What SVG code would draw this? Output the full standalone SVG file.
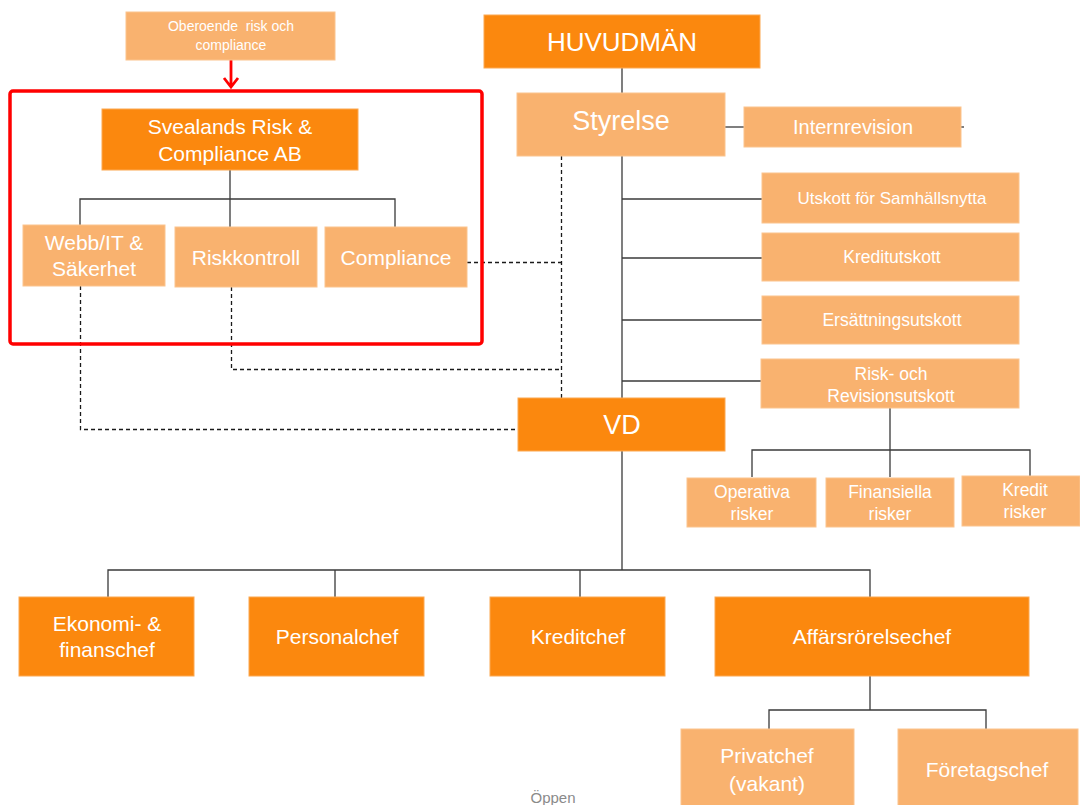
<svg xmlns="http://www.w3.org/2000/svg" width="1080" height="805" viewBox="0 0 1080 805">
<style>
.dk{fill:#FB880E;stroke:#FCA850;stroke-width:1}
.lt{fill:#F9B26F;stroke:#FBC48E;stroke-width:1}
text{font-family:"Liberation Sans",Arial,sans-serif;fill:#FFFFFF;text-anchor:middle}
.ln{stroke:#3a3a3a;stroke-width:1.3;fill:none}
.ds{stroke:#1a1a1a;stroke-width:1.3;fill:none;stroke-dasharray:4 3}
</style>
<rect width="1080" height="805" fill="#FFFFFF"/>
<g id="connectors">
<line class="ln" x1="622" y1="68" x2="622" y2="93"/>
<line class="ln" x1="725" y1="127" x2="744" y2="127"/>
<line class="ln" x1="961" y1="127" x2="964" y2="127"/>
<line class="ln" x1="622" y1="156" x2="622" y2="398"/>
<line class="ln" x1="622" y1="451" x2="622" y2="570"/>
<line class="ln" x1="622" y1="199" x2="762" y2="199"/>
<line class="ln" x1="622" y1="258" x2="762" y2="258"/>
<line class="ln" x1="622" y1="320" x2="762" y2="320"/>
<line class="ln" x1="622" y1="381" x2="761" y2="381"/>
<path class="ln" d="M890 408V450M752 477V450H1030V476M890 450V477"/>
<path class="ln" d="M230 170V199M80 225V199H395V227M230 199V227"/>
<path class="ln" d="M108 597V570H870V597M335 570V597M580 570V597"/>
<path class="ln" d="M870 676V710M769 729V710H986V729"/>
<path class="ds" d="M561.5 156V398M467 262.5H561.5M231.5 287V369.5H561.5M80.5 286V429.5H518"/>
<rect x="10" y="91" width="472" height="253" rx="3" fill="none" stroke="#FF0000" stroke-width="3.5"/>
<path d="M231 60V87M224 78L231 87L238 78" fill="none" stroke="#FF0000" stroke-width="2.8"/>
</g>
<g id="oberoende"><rect class="lt" x="126" y="12" width="209" height="48"/><text x="231" y="31" font-size="14" xml:space="preserve">Oberoende  risk och</text><text x="231" y="50" font-size="14">compliance</text></g>
<g id="svealands"><rect class="dk" x="102" y="109" width="256" height="61"/><text x="230" y="134" font-size="21">Svealands Risk &amp;</text><text x="230" y="161" font-size="21">Compliance AB</text></g>
<g id="webb"><rect class="lt" x="23" y="225" width="142" height="61"/><text x="94" y="250" font-size="21">Webb/IT &amp;</text><text x="94" y="276" font-size="21">Säkerhet</text></g>
<g id="riskkontroll"><rect class="lt" x="175" y="227" width="142" height="60"/><text x="246" y="265" font-size="21">Riskkontroll</text></g>
<g id="compliance"><rect class="lt" x="325" y="227" width="142" height="60"/><text x="396" y="265" font-size="21">Compliance</text></g>
<g id="huvudman"><rect class="dk" x="484" y="15" width="276" height="53"/><text x="622" y="51" font-size="26">HUVUDMÄN</text></g>
<g id="styrelse"><rect class="lt" x="517" y="93" width="208" height="63"/><text x="621" y="130" font-size="27">Styrelse</text></g>
<g id="internrevision"><rect class="lt" x="744" y="107" width="217" height="40"/><text x="853" y="134" font-size="20">Internrevision</text></g>
<g id="samhallsnytta"><rect class="lt" x="762" y="173" width="257" height="50"/><text x="892" y="204" font-size="17">Utskott för Samhällsnytta</text></g>
<g id="kreditutskott"><rect class="lt" x="762" y="233" width="257" height="48"/><text x="892" y="263" font-size="17.5">Kreditutskott</text></g>
<g id="ersattning"><rect class="lt" x="762" y="296" width="257" height="48"/><text x="892" y="326" font-size="17.5">Ersättningsutskott</text></g>
<g id="riskrevision"><rect class="lt" x="761" y="359" width="258" height="49"/><text x="891" y="380" font-size="17.5">Risk- och</text><text x="891" y="402" font-size="17.5">Revisionsutskott</text></g>
<g id="operativa"><rect class="lt" x="687" y="478" width="129" height="49"/><text x="752" y="498" font-size="17.5">Operativa</text><text x="752" y="520" font-size="17.5">risker</text></g>
<g id="finansiella"><rect class="lt" x="826" y="478" width="128" height="49"/><text x="890" y="498" font-size="17.5">Finansiella</text><text x="890" y="520" font-size="17.5">risker</text></g>
<g id="kreditrisker"><rect class="lt" x="962" y="476" width="118" height="50"/><text x="1025" y="496" font-size="17.5">Kredit</text><text x="1025" y="518" font-size="17.5">risker</text></g>
<g id="vd"><rect class="dk" x="518" y="398" width="207" height="53"/><text x="622" y="434" font-size="27">VD</text></g>
<g id="ekonomi"><rect class="dk" x="19" y="597" width="175" height="79"/><text x="107" y="631" font-size="21">Ekonomi- &amp;</text><text x="107" y="657" font-size="21">finanschef</text></g>
<g id="personalchef"><rect class="dk" x="249" y="597" width="175" height="79"/><text x="337" y="644" font-size="21">Personalchef</text></g>
<g id="kreditchef"><rect class="dk" x="490" y="597" width="175" height="79"/><text x="578" y="644" font-size="21">Kreditchef</text></g>
<g id="affarsrorelsechef"><rect class="dk" x="715" y="597" width="314" height="79"/><text x="872" y="644" font-size="21">Affärsrörelsechef</text></g>
<g id="privatchef"><rect class="lt" x="681" y="729" width="173" height="80"/><text x="767" y="763" font-size="21">Privatchef</text><text x="767" y="791" font-size="21">(vakant)</text></g>
<g id="foretagschef"><rect class="lt" x="898" y="729" width="180" height="80"/><text x="987" y="777" font-size="21">Företagschef</text></g>
<text x="553" y="803" font-size="15" style="fill:#8a8a8a">Öppen</text>
</svg>
